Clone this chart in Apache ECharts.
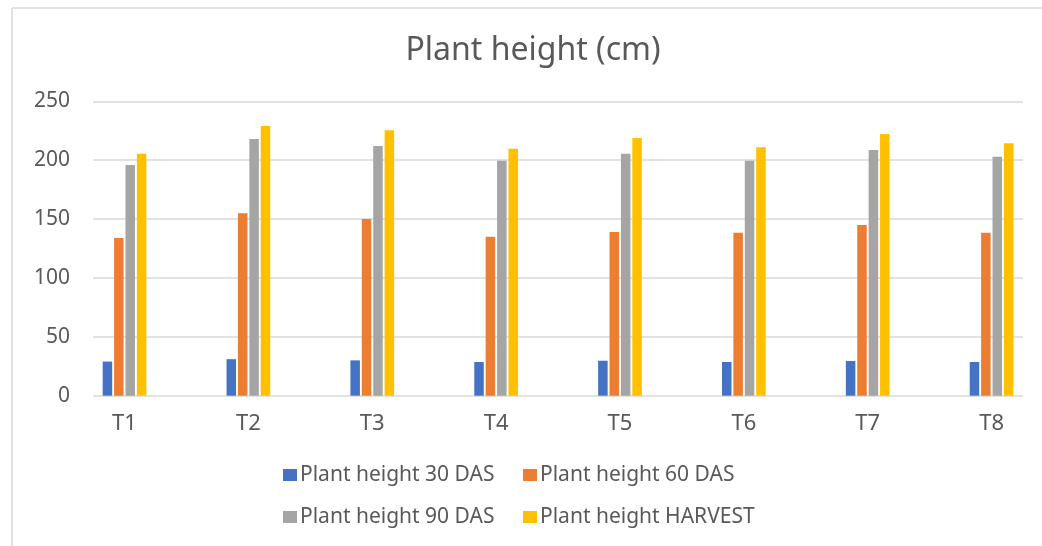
<!DOCTYPE html>
<html><head><meta charset="utf-8">
<script src="https://cdn.jsdelivr.net/npm/echarts@6/dist/echarts.min.js"></script>
<style>html,body{margin:0;padding:0;background:#fff;overflow:hidden;width:1042px;height:546px}#c{width:1100px;height:546px}</style>
</head><body><div id="c"></div>
<script>
const categories = ['T1', 'T2', 'T3', 'T4', 'T5', 'T6', 'T7', 'T8'];
const das30 = [29, 31, 30, 28.6, 29.7, 28.6, 29.5, 28.6];
const das60 = [134, 155, 150, 135, 139, 138.4, 145, 138.4];
const das90 = [196, 218, 212, 199.6, 205.5, 199.6, 208.6, 203];
const harvest = [205.5, 229, 225.4, 209.8, 218.8, 210.9, 222.2, 214.3];
const seriesNames = ['Plant height 30 DAS', 'Plant height 60 DAS', 'Plant height 90 DAS', 'Plant height HARVEST'];
const colors = ['#4472C4', '#ED7D31', '#A5A5A5', '#FFC000'];
const yTicks = { min: 0, max: 250, interval: 50 };

const FONT = 'Noto Sans';
const TXT = '#595959';
const chart = echarts.init(document.getElementById('c'), null, { renderer: 'canvas' });
const values = [das30, das60, das90, harvest];
const legendPos = [[283, 464], [523, 464], [283, 506], [523, 506]];

chart.setOption({
  animation: false,
  backgroundColor: '#ffffff',
  color: colors,
  title: {
    text: 'Plant height (cm)', left: 533, top: 35, padding: 0, textAlign: 'center',
    textStyle: { fontFamily: FONT, fontSize: 32, fontWeight: 'normal', color: TXT }
  },
  legend: seriesNames.map((n, i) => ({
    data: [n], left: legendPos[i][0], top: legendPos[i][1], padding: 0,
    itemWidth: 14, itemHeight: 12, icon: 'rect', itemGap: 4,
    textStyle: { fontFamily: FONT, fontSize: 21, color: TXT, lineHeight: 22, padding: [0, 0, 0, -2] }
  })),
  graphic: [
    { type: 'line', shape: { x1: 12, y1: 8, x2: 1100, y2: 8 }, style: { stroke: '#d9d9d9', lineWidth: 1.5 } },
    { type: 'line', shape: { x1: 12, y1: 8, x2: 12, y2: 546 }, style: { stroke: '#d9d9d9', lineWidth: 1.5 } }
  ],
  grid: [
    { left: 93, top: 101.3, width: 930, height: 294.4 },
    { left: 62.6, top: 101.3, width: 990.9, height: 294.4 }
  ],
  xAxis: [
    { type: 'category', gridIndex: 0, data: categories, show: false },
    { type: 'category', gridIndex: 1, data: categories,
      axisLine: { show: false }, axisTick: { show: false },
      axisLabel: { fontFamily: FONT, fontSize: 22, color: TXT, margin: 17 } }
  ],
  yAxis: [
    { type: 'value', gridIndex: 0, min: yTicks.min, max: yTicks.max, interval: yTicks.interval,
      axisLine: { show: false }, axisTick: { show: false },
      axisLabel: { fontFamily: FONT, fontSize: 21, color: TXT, margin: 23 },
      splitLine: { lineStyle: { color: '#d9d9d9', width: 1.5 } } },
    { type: 'value', gridIndex: 1, min: yTicks.min, max: yTicks.max, show: false, splitLine: { show: false } }
  ],
  series: seriesNames.map((n, i) => ({
    name: n, type: 'bar', xAxisIndex: 1, yAxisIndex: 1,
    data: values[i], barWidth: 9.5, barGap: '20%',
    itemStyle: { color: colors[i] }
  }))
});
</script>
</body></html>
